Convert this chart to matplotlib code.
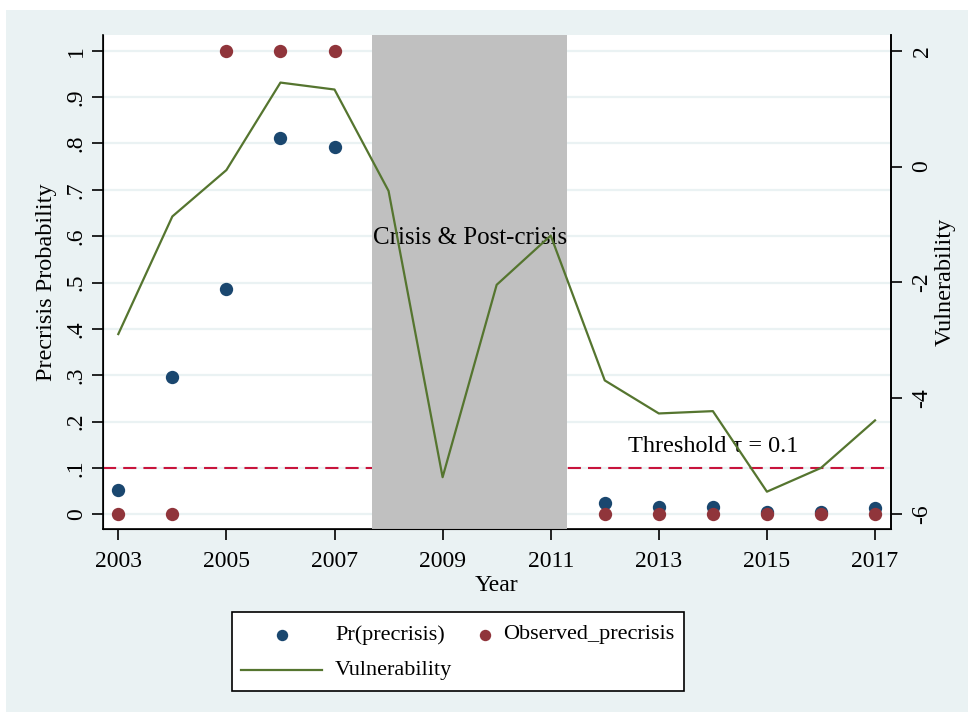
import matplotlib
matplotlib.use('Agg')
import matplotlib.pyplot as plt
from matplotlib.patches import Rectangle
from matplotlib.lines import Line2D

plt.rcParams['font.family'] = ['Liberation Serif', 'DejaVu Serif']

# Data
years = [2003, 2004, 2005, 2006, 2007, 2008, 2009, 2010, 2011,
         2012, 2013, 2014, 2015, 2016, 2017]
vulnerability = [-2.89, -0.86, -0.06, 1.45, 1.33, -0.42, -5.36, -2.04, -1.19,
                 -3.69, -4.26, -4.22, -5.61, -5.20, -4.38]

pr_years = [2003, 2004, 2005, 2006, 2007, 2012, 2013, 2014, 2015, 2016, 2017]
pr_precrisis = [0.052, 0.297, 0.486, 0.811, 0.792, 0.025, 0.015, 0.015,
                0.005, 0.006, 0.014]
observed = [0, 0, 1, 1, 1, 0, 0, 0, 0, 0, 0]

threshold = 0.1
crisis_start, crisis_end = 2007.69, 2011.31

xticks = list(range(2003, 2018, 2))
yticks = [i / 10 for i in range(11)]
yticklabels = ['0', '.1', '.2', '.3', '.4', '.5', '.6', '.7', '.8', '.9', '1']
y2ticks = [-6, -4, -2, 0, 2]

# Colours (Stata s2color-ish)
navy = '#1a476f'
maroon = '#90353b'
green = '#55752f'
red = '#c8143c'
bg = '#eaf2f3'

W, H = 974, 718
fig = plt.figure(figsize=(W / 100, H / 100), dpi=100, facecolor='white')
fig.patches.append(Rectangle((6 / W, 1 - 712 / H), 962 / W, 702 / H,
                             transform=fig.transFigure, facecolor=bg,
                             edgecolor='none', zorder=-10))

ax = fig.add_axes([103 / W, 1 - 529 / H, 787.7 / W, 494 / H])
ax.set_facecolor('white')
ax.set_xlim(2002.717, 2017.29)
ax.set_ylim(-0.0317, 1.0339)

for t in yticks:
    ax.axhline(t, color=bg, lw=1.6, zorder=1)
ax.axhline(threshold, color=red, lw=1.5, ls=(0, (6.3, 3.4)), zorder=2)
ax.axvspan(crisis_start, crisis_end, color='#c0c0c0', lw=0, zorder=3)

ax.scatter(pr_years, pr_precrisis, s=92, color=navy, zorder=4, lw=0)
ax.scatter(pr_years, observed, s=92, color=maroon, zorder=5, lw=0)

ax.text(2009.5, 0.597, 'Crisis & Post-crisis', fontsize=18, ha='center',
        va='center', zorder=6)
ax.text(2014, 0.146, 'Threshold \u03c4 = 0.1', fontsize=17.5, ha='center',
        va='center', zorder=6)

ax.set_xticks(xticks)
ax.set_yticks(yticks)
ax.set_yticklabels(yticklabels, rotation=90, va='center')
ax.tick_params(axis='both', length=8, width=1.2, labelsize=17, direction='out')
ax.tick_params(axis='y', pad=3.6)
ax.tick_params(axis='x', pad=8)
ax.set_xlabel('Year', fontsize=17)
ax.set_ylabel('Precrisis Probability', fontsize=17.5, va='center')
ax.xaxis.set_label_coords(0.5, -0.093)
ax.yaxis.set_label_coords(-0.0717, 0.5)
ax.spines['top'].set_visible(False)
for s in ['left', 'bottom', 'right']:
    ax.spines[s].set_linewidth(1.2)

ax2 = ax.twinx()
ax2.set_ylim(-6.254, 2.271)
ax2.plot(years, vulnerability, color=green, lw=1.6, zorder=7)
ax2.set_yticks(y2ticks)
ax2.set_yticklabels([str(v) for v in y2ticks], rotation=90, va='center')
ax2.tick_params(axis='y', length=8, width=1.2, labelsize=17, pad=7)
ax2.set_ylabel('Vulnerability', fontsize=17.5, va='center')
ax2.yaxis.set_label_coords(1.0689, 0.5)
ax2.spines['top'].set_visible(False)
ax2.spines['right'].set_linewidth(1.2)

# Legend box drawn in figure pixels
def fx(px):
    return px / W

def fy(py):
    return 1 - py / H

fig.patches.append(Rectangle((fx(232), fy(691)), fx(684) - fx(232), fy(612) - fy(691),
                             transform=fig.transFigure, facecolor='white',
                             edgecolor='black', lw=1.2, zorder=5))
fig.lines.append(Line2D([fx(282)], [fy(635)], marker='o', ms=8.2, color=navy,
                        ls='none', mew=0, transform=fig.transFigure, zorder=6))
fig.lines.append(Line2D([fx(485)], [fy(635)], marker='o', ms=8.2, color=maroon,
                        ls='none', mew=0, transform=fig.transFigure, zorder=6))
fig.lines.append(Line2D([fx(241), fx(322)], [fy(670), fy(670)], color=green,
                        lw=1.6, transform=fig.transFigure, zorder=6))
fig.text(fx(335), fy(635), 'Pr(precrisis)', fontsize=16, va='center', zorder=7)
fig.text(fx(503), fy(635), 'Observed_precrisis', fontsize=16, va='center', zorder=7)
fig.text(fx(335), fy(670), 'Vulnerability', fontsize=16, va='center', zorder=7)

fig.savefig('out.png', dpi=100, facecolor='white')
